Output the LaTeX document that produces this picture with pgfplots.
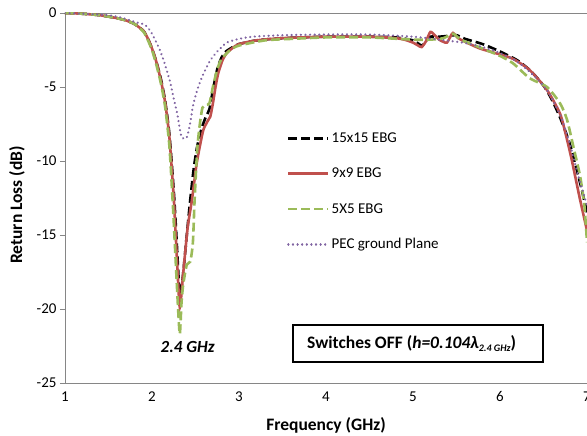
\documentclass[border=0pt]{standalone}
\usepackage{pgfplots}
\pgfplotsset{compat=1.18}
\usepackage{fontspec}
\setmainfont{Carlito}
\definecolor{xred}{HTML}{C0504D}
\definecolor{xgreen}{HTML}{9BBB59}
\definecolor{xpurple}{HTML}{8064A2}
\definecolor{axgray}{HTML}{868686}
\begin{document}
\begin{tikzpicture}
\useasboundingbox (-65pt,-53pt) rectangle (522pt,383pt);
\begin{axis}[at={(0pt,0pt)}, anchor=south west, scale only axis,
  width=522pt, height=370pt,
  xmin=1, xmax=7, ymin=-25, ymax=0,
  xtick={1,2,3,4,5,6,7}, ytick={-25,-20,-15,-10,-5,0},
  axis x line*=bottom, axis y line*=left,
  axis line style={draw=axgray, line width=0.9pt},
  tick align=outside, major tick length=5pt,
  ytick style={draw=axgray, line width=0.9pt},
  xtick style={draw=none},
  /pgf/number format/assume math mode=true,
  tick label style={font=\fontsize{15}{18}\selectfont},
  xlabel={Frequency (GHz)}, ylabel={Return Loss (dB)},
  label style={font=\fontsize{17.5}{20}\selectfont\bfseries},
  xlabel style={at={(axis description cs:0.5,-0.1135)}, anchor=center},
  ylabel style={at={(axis description cs:-0.092,0.481)}, anchor=center},
  every axis plot/.append style={legend image code/.code={\draw[##1] (0pt,0pt) -- (40pt,0pt);}},
  legend cell align=left,
  legend style={draw=none, fill=none, at={(0.425,0.682)}, anchor=north west,
    font=\fontsize{15}{18}\selectfont, row sep=20pt, inner sep=0pt},
]
\draw[axgray, line width=0.9pt] (rel axis cs:0,1) -- (rel axis cs:1,1);

\addplot[black, line width=2.6pt, dash pattern=on 9pt off 4pt, smooth, tension=0.4] coordinates {
(1.0,0) (1.2,-0.05) (1.4,-0.15) (1.6,-0.35) (1.7,-0.5) (1.8,-0.75) (1.9,-1.2)
(1.95,-1.7) (2.0,-2.4) (2.05,-3.3) (2.1,-4.4) (2.15,-5.9) (2.2,-8.2) (2.25,-12)
(2.28,-15) (2.31,-18.3) (2.33,-19.0) (2.36,-17.5) (2.40,-15) (2.44,-12.6)
(2.48,-10.5) (2.52,-9.0) (2.57,-7.8) (2.62,-7.0) (2.66,-6.5) (2.70,-5.2)
(2.75,-3.8) (2.80,-3.0) (2.85,-2.6) (2.93,-2.3) (3.0,-2.1) (3.2,-1.85)
(3.5,-1.7) (4.0,-1.6) (4.5,-1.6) (4.8,-1.65) (5.0,-1.85) (5.1,-2.2)
(5.15,-1.9) (5.2,-1.6) (5.3,-1.6) (5.4,-1.55) (5.5,-1.5) (5.6,-1.75)
(5.8,-2.1) (6.0,-2.6) (6.2,-3.2) (6.35,-3.9) (6.5,-4.9) (6.6,-5.9)
(6.7,-7.2) (6.8,-8.8) (6.9,-11) (6.95,-12.2) (7.0,-13.5)};
\addlegendentry{15x15 EBG}

\addplot[xred, line width=2.6pt, smooth, tension=0.4] coordinates {
(1.0,0) (1.2,-0.05) (1.4,-0.15) (1.6,-0.35) (1.7,-0.5) (1.8,-0.75) (1.9,-1.2)
(1.95,-1.7) (2.0,-2.4) (2.05,-3.3) (2.1,-4.5) (2.15,-6.0) (2.2,-8.4) (2.25,-12.5)
(2.29,-17) (2.32,-19.9) (2.36,-17.5) (2.41,-14.5) (2.46,-12.6) (2.51,-10.3)
(2.55,-9.0) (2.59,-7.9) (2.64,-7.3) (2.67,-7.0) (2.70,-6.1) (2.73,-5.0)
(2.76,-4.1) (2.81,-3.2) (2.86,-2.7) (2.93,-2.35) (3.0,-2.1) (3.2,-1.85)
(3.5,-1.7) (4.0,-1.6) (4.5,-1.6) (4.8,-1.7) (4.9,-1.8) (5.0,-2.0) (5.06,-2.2)
(5.10,-2.3) (5.15,-1.9) (5.2,-1.28) (5.25,-1.5) (5.3,-1.8) (5.35,-1.95)
(5.39,-2.0) (5.43,-1.6) (5.46,-1.35) (5.52,-1.7) (5.6,-1.95) (5.77,-2.4)
(6.0,-2.8) (6.15,-3.1) (6.34,-3.85) (6.54,-5.2) (6.69,-6.8) (6.76,-8.3)
(6.82,-9.8) (6.87,-11.2) (6.92,-12.6) (7.0,-14.7)};
\addlegendentry{9x9 EBG}

\addplot[xgreen, line width=2.6pt, dash pattern=on 9pt off 4pt, smooth, tension=0.4] coordinates {
(1.0,0) (1.2,-0.05) (1.4,-0.15) (1.6,-0.35) (1.7,-0.5) (1.8,-0.75) (1.9,-1.25)
(1.95,-1.8) (2.0,-2.5) (2.05,-3.5) (2.1,-4.7) (2.15,-6.3) (2.2,-9.0) (2.24,-13)
(2.27,-16.5) (2.3,-20) (2.32,-21.7) (2.34,-19.5) (2.36,-18.3) (2.4,-17.0)
(2.44,-16.8) (2.47,-15.5) (2.49,-12.6) (2.52,-9.2) (2.55,-7.5) (2.58,-6.4)
(2.62,-6.2) (2.66,-6.1) (2.70,-5.0) (2.75,-3.8) (2.8,-3.1) (2.9,-2.5)
(3.0,-2.2) (3.3,-1.85) (3.6,-1.75) (4.0,-1.65) (4.5,-1.65) (5.0,-1.8)
(5.2,-1.8) (5.35,-1.7) (5.46,-1.4) (5.55,-1.8) (5.8,-2.4) (6.0,-2.9)
(6.15,-3.4) (6.34,-4.4) (6.54,-5.0) (6.69,-6.1) (6.77,-7.2) (6.85,-9.2)
(6.92,-11) (6.97,-13) (7.0,-15.5)};
\addlegendentry{5X5 EBG}

\addplot[xpurple, line width=2.4pt, line cap=round, dash pattern=on 0.01pt off 4.6pt, smooth, tension=0.4] coordinates {
(1.0,0) (1.5,-0.15) (1.7,-0.4) (1.8,-0.6) (1.9,-0.75) (1.94,-0.9) (2.0,-1.4)
(2.09,-2.5) (2.15,-3.5) (2.21,-4.7) (2.25,-5.8) (2.29,-6.8) (2.34,-8.4)
(2.40,-8.4) (2.44,-7.4) (2.47,-6.3) (2.51,-5.4) (2.55,-4.7) (2.6,-4.0)
(2.67,-3.2) (2.75,-2.6) (2.86,-2.0) (3.0,-1.75) (3.16,-1.6) (3.5,-1.5)
(4.0,-1.45) (4.5,-1.45) (5.0,-1.6) (5.3,-1.8) (5.57,-2.0) (5.8,-2.3)
(6.0,-2.7) (6.2,-3.3) (6.4,-4.3) (6.55,-5.3) (6.7,-7.0) (6.8,-8.8)
(6.9,-11) (7.0,-13)};
\addlegendentry{PEC ground Plane}

\node[font=\fontsize{17}{20}\selectfont\bfseries\itshape] at (axis cs:2.41,-22.6) {2.4 GHz};
\draw[black, line width=2pt] (axis cs:3.621,-21.08) rectangle (axis cs:6.494,-23.58);
\node[anchor=west, inner sep=0pt, font=\fontsize{17.5}{20}\selectfont\bfseries] at (axis cs:3.782,-22.33)
 {Switches OFF (\textit{h=0.104λ}\raisebox{-0.35ex}{\fontsize{10}{11}\selectfont\itshape 2.4 GHz})};
\end{axis}
\end{tikzpicture}
\end{document}
